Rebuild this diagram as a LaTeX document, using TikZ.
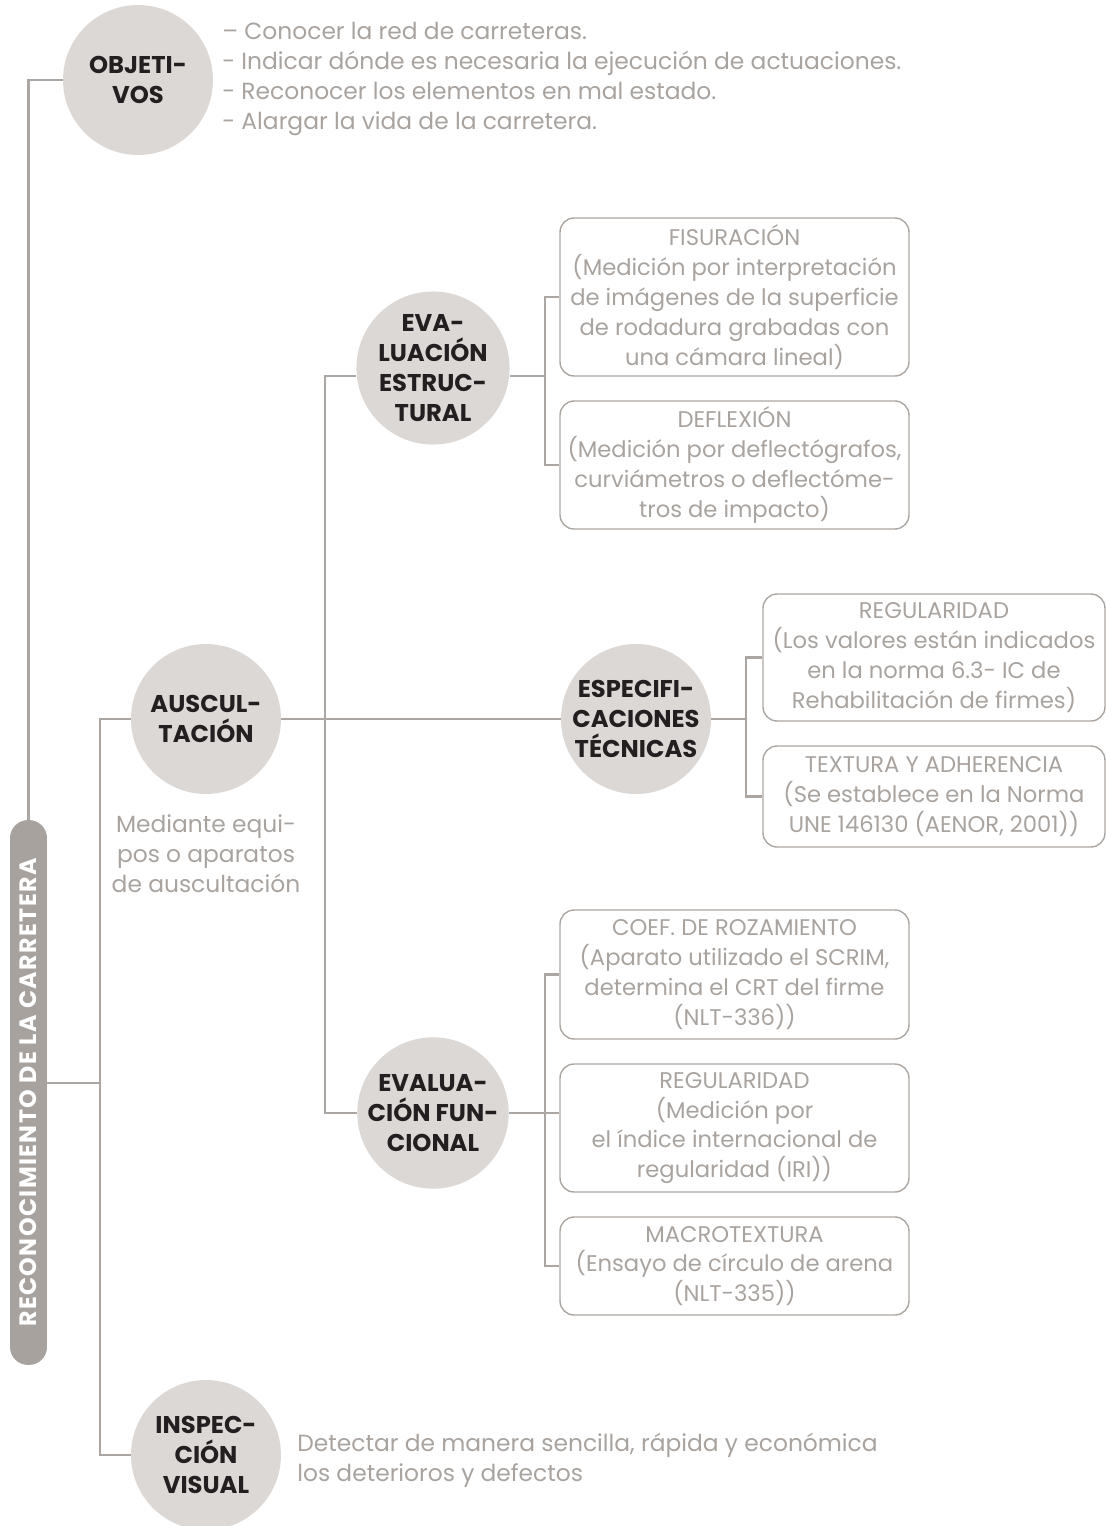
\documentclass[tikz,border=0pt]{standalone}
\usepackage{fontspec}
\setmainfont{Poppins}
\usepackage{xcolor}
\definecolor{circfill}{HTML}{DCD8D5}
\definecolor{linecol}{HTML}{ABA6A2}
\definecolor{graytxt}{HTML}{A8A39F}
\definecolor{barfill}{HTML}{A8A29E}
\definecolor{darktxt}{HTML}{231F20}
\newcommand{\txtsize}{\fontsize{12.9}{17}\selectfont}

\begin{document}
\begin{tikzpicture}[x=0.02cm, y=-0.02cm,
	link/.style={draw=linecol, line width=1.4pt},
	circ/.style={circle, fill=circfill, minimum size=3cm, inner sep=0pt, align=center, text=darktxt, font=\bfseries\fontsize{13.8}{17}\selectfont},
	box/.style={draw=linecol, line width=0.8pt, rounded corners=0.28cm, align=center, text=graytxt, font=\txtsize, minimum width=6.98cm, inner sep=0pt},
	note/.style={text=graytxt, font=\fontsize{13.3}{17}\selectfont, inner sep=0pt}]
	\useasboundingbox (0,0) rectangle (1106,1526);

	% circles
	\node[circ] (obj) at (138,80) {OBJETI-\\VOS};
	\node[circ] (aus) at (206,719) {AUSCUL-\\TACIÓN};
	\node[circ] (ees) at (433,368) {EVA-\\LUACIÓN\\ESTRUC-\\TURAL};
	\node[circ] (esp) at (636,719) {ESPECIFI-\\CACIONES\\TÉCNICAS};
	\node[circ] (efun) at (433,1113) {EVALUA-\\CIÓN FUN-\\CIONAL};
	\node[circ] (insp) at (206,1455) {INSPEC-\\CIÓN\\VISUAL};

	% boxes
	\node[box, minimum height=3.16cm] (fis) at (734.5,297) {FISURACIÓN\\(Medición por interpretación\\de imágenes de la superficie\\de rodadura grabadas con\\una cámara lineal)};
	\node[box, minimum height=2.56cm] (defl) at (734.5,465) {DEFLEXIÓN\\(Medición por deflectógrafos,\\curviámetros o deflectóme-\\tros de impacto)};
	\node[box, minimum height=2.54cm, minimum width=6.84cm] (reg) at (934,657.5) {REGULARIDAD\\(Los valores están indicados\\en la norma 6.3- IC de\\Rehabilitación de firmes)};
	\node[box, minimum height=2.02cm, minimum width=6.84cm] (tex) at (934,796.5) {TEXTURA Y ADHERENCIA\\(Se establece en la Norma\\UNE 146130 (AENOR, 2001))};
	\node[box, minimum height=2.58cm] (coef) at (734.5,974.5) {COEF. DE ROZAMIENTO\\(Aparato utilizado el SCRIM,\\determina el CRT del firme\\(NLT-336))};
	\node[box, minimum height=2.56cm] (iri) at (734.5,1128) {REGULARIDAD\\(Medición por\\el índice internacional de\\regularidad (IRI))};
	\node[box, minimum height=1.96cm] (macro) at (734.5,1266) {MACROTEXTURA\\(Ensayo de círculo de arena\\(NLT-335))};

	% side bar
	\node[fill=barfill, rounded corners=0.36cm, minimum width=0.74cm, minimum height=10.9cm, inner sep=0pt] (bar) at (28.5,1092.5) {};
	\node[rotate=90, text=white, font=\bfseries\fontsize{13.5}{14}\selectfont\addfontfeatures{LetterSpace=6}] (bartxt) at (bar.center) {RECONOCIMIENTO DE LA CARRETERA};

	% notes
	\node[note, anchor=west, align=left] (objtxt) at (222,79) {– Conocer la red de carreteras.\\- Indicar dónde es necesaria la ejecución de actuaciones.\\- Reconocer los elementos en mal estado.\\- Alargar la vida de la carretera.};
	\node[note, align=center] (austxt) at (206,854) {Mediante equi-\\pos o aparatos\\de auscultación};
	\node[note, anchor=west, align=left] (insptxt) at (297,1460) {Detectar de manera sencilla, rápida y económica\\los deterioros y defectos};

	% junctions
	\coordinate (jbar) at (100,1083);
	\coordinate (jaus) at (325,719);
	\coordinate (jees) at (545,376);
	\coordinate (jesp) at (746,719);
	\coordinate (jfun) at (545,1113);

	% connectors
	\draw[link] (obj.west) -| (bar.north);
	\draw[link] (bar.east |- jbar) -- (jbar);
	\draw[link] (jbar) |- (aus.west);
	\draw[link] (jbar) |- (insp.west);
	\draw[link] (aus.east) -- (esp.west);
	\draw[link] (jaus) |- (ees.west |- jees);
	\draw[link] (jaus) |- (efun.west);
	\draw[link] (ees.east |- jees) -- (jees);
	\draw[link] (jees) |- (fis.west);
	\draw[link] (jees) |- (defl.west);
	\draw[link] (esp.east) -- (jesp);
	\draw[link] (jesp) |- (reg.west);
	\draw[link] (jesp) |- (tex.west);
	\draw[link] (efun.east) -- (jfun);
	\draw[link] (jfun) -- (iri.west |- jfun);
	\draw[link] (jfun) |- (coef.west);
	\draw[link] (jfun) |- (macro.west);
\end{tikzpicture}
\end{document}
